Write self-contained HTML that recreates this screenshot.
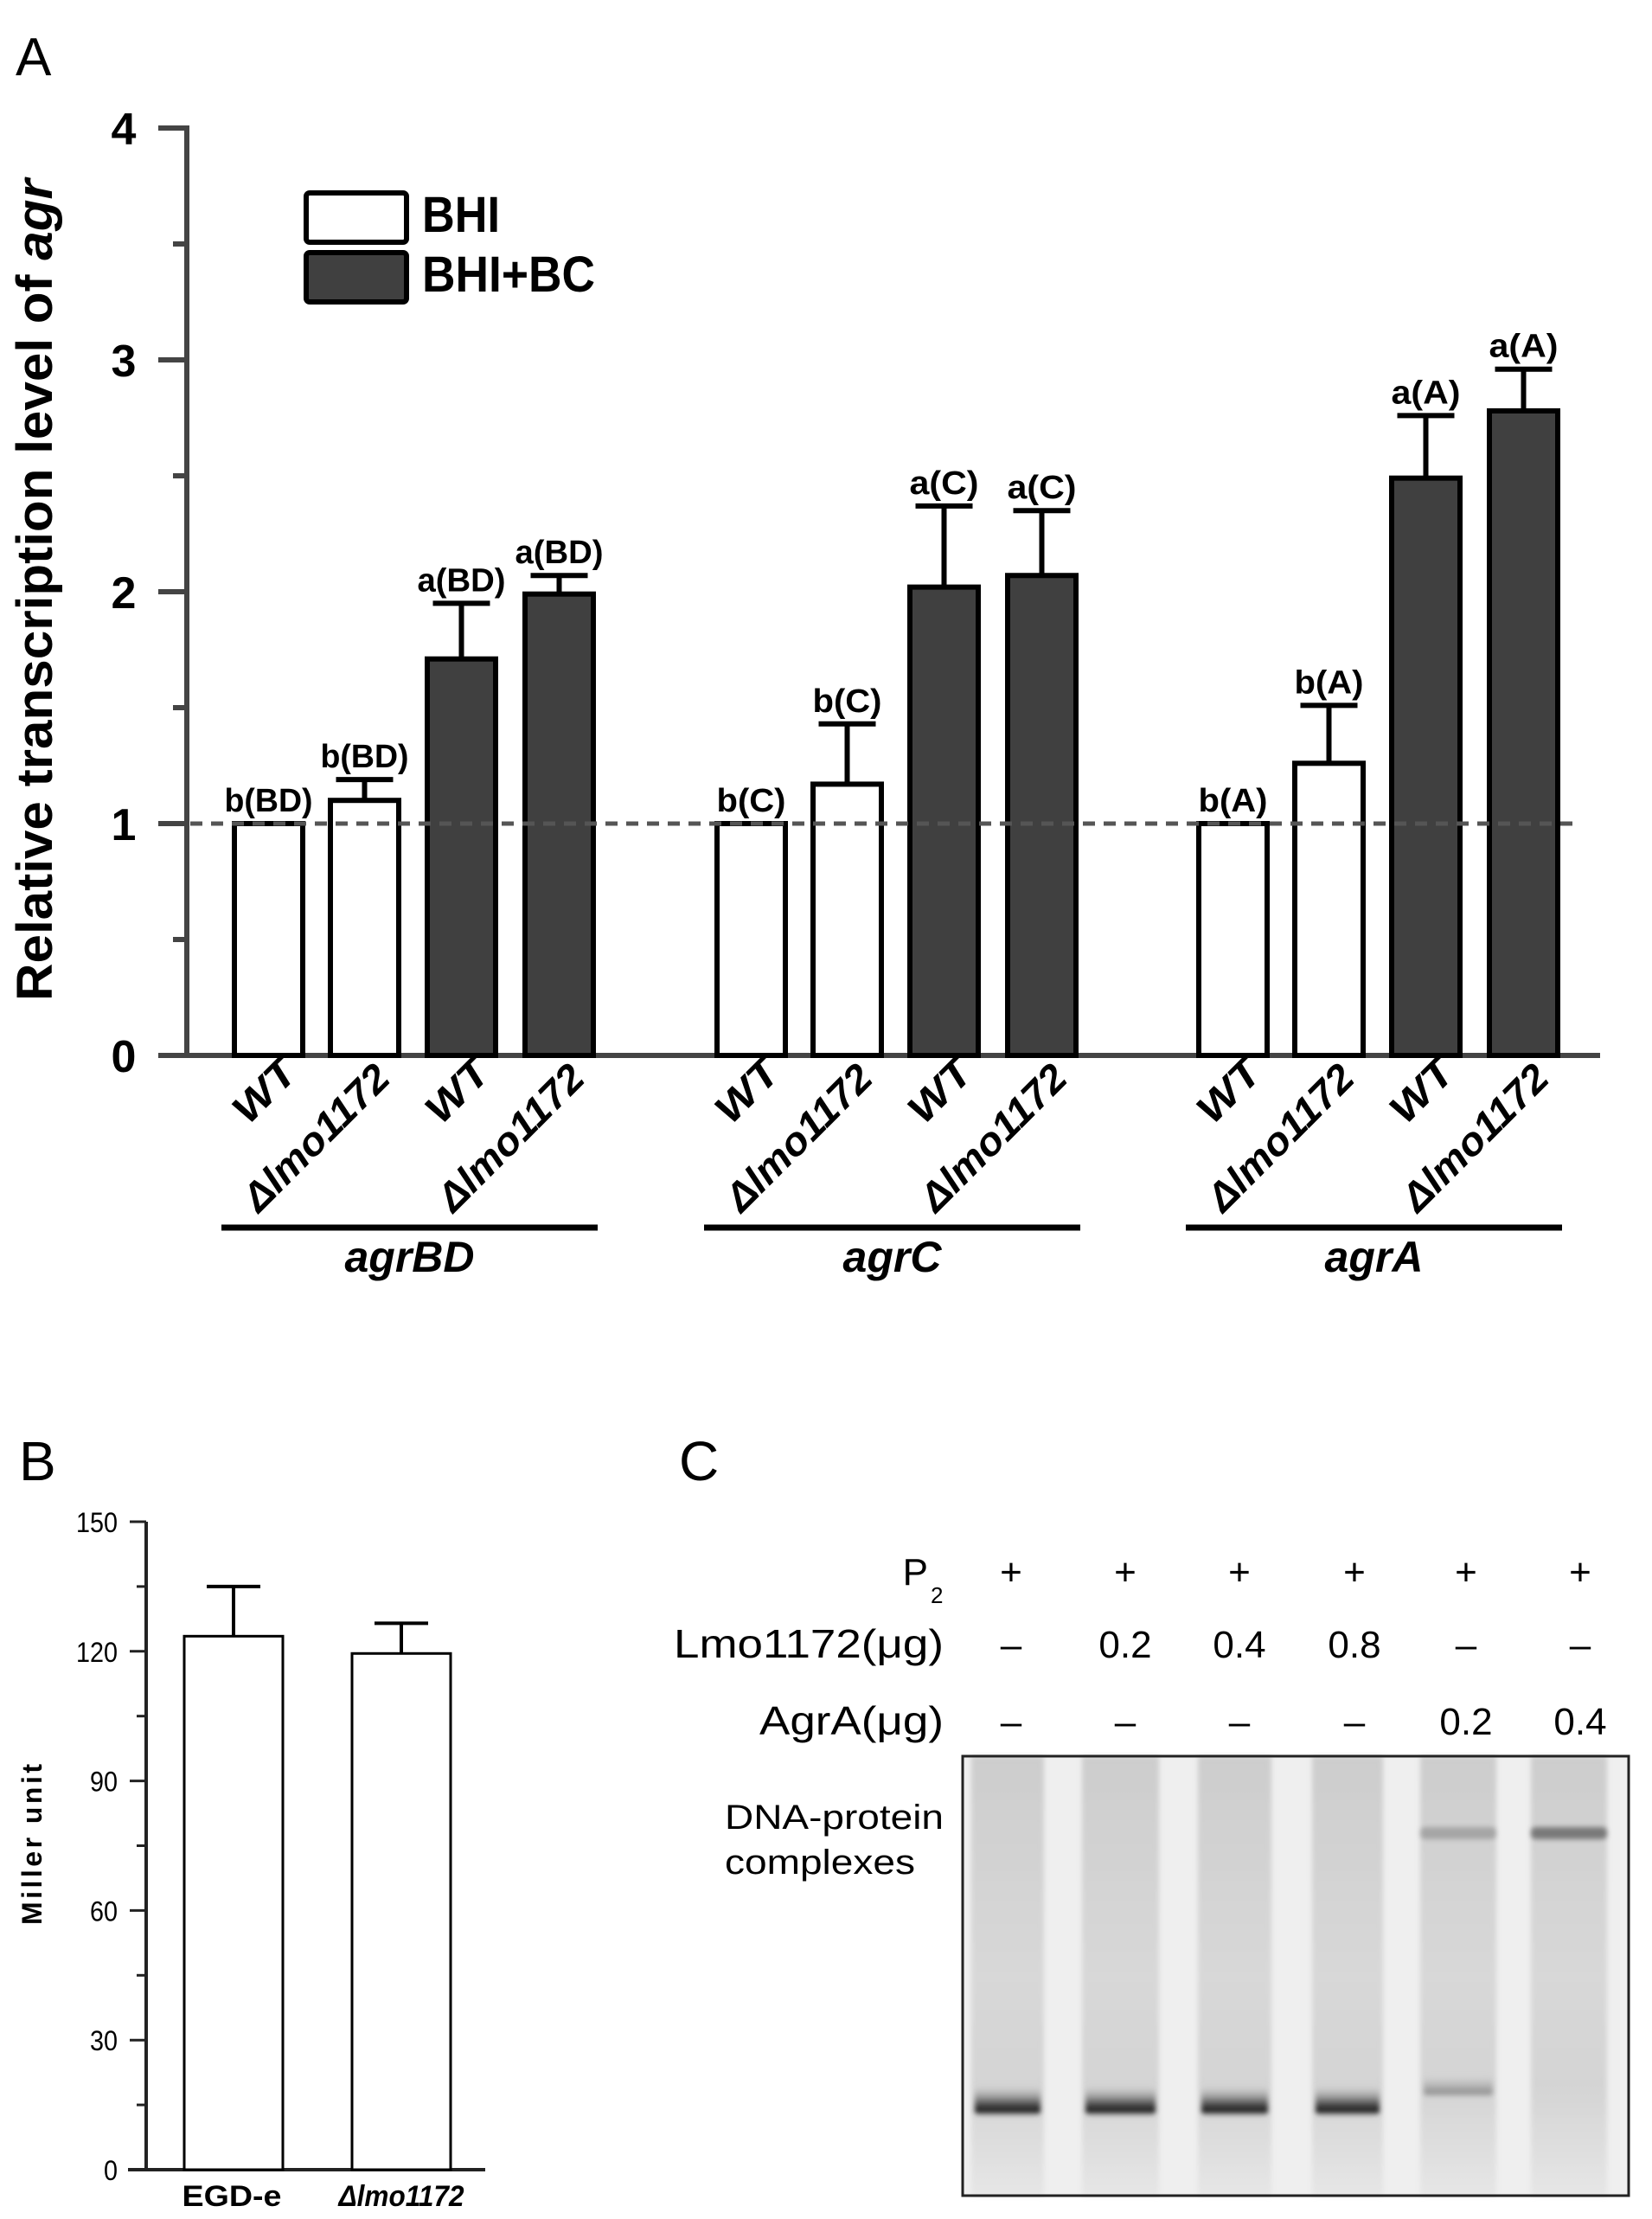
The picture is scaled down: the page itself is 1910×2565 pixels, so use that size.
<!DOCTYPE html>
<html><head><meta charset="utf-8"><style>
html,body{margin:0;padding:0;background:#fff}
svg{display:block}
text{font-family:"Liberation Sans",sans-serif}
</style></head><body>
<svg id="fig" width="1910" height="2565" viewBox="0 0 1910 2565" xmlns="http://www.w3.org/2000/svg">
<defs>
<linearGradient id="laneGrad" x1="0" y1="0" x2="0" y2="1">
<stop offset="0" stop-color="#cdcdcd"/><stop offset="0.5" stop-color="#d8d8d8"/><stop offset="0.75" stop-color="#d4d4d4"/><stop offset="1" stop-color="#e6e6e6"/>
</linearGradient>
<linearGradient id="bandGrad" x1="0" y1="0" x2="0" y2="1">
<stop offset="0" stop-color="#bbb" stop-opacity="0"/><stop offset="0.6" stop-color="#555"/><stop offset="0.85" stop-color="#111"/><stop offset="1" stop-color="#888" stop-opacity="0.2"/>
</linearGradient>
<filter id="blur" x="-20%" y="-50%" width="140%" height="200%"><feGaussianBlur stdDeviation="3"/></filter>
</defs>
<g id="panelA"></g>
<g id="panelB"></g>
<g id="panelC"></g>
</svg>
<script>
// ---- Panel A data ----
const aGroups = ["agrBD","agrC","agrA"];
const aCategories = ["WT","Δlmo1172","WT","Δlmo1172"];
const aMeans = [[1.0,1.10,1.71,1.99],[1.0,1.17,2.02,2.07],[1.0,1.26,2.49,2.78]];
const aErrTops = [[1.0,1.19,1.95,2.07],[1.0,1.43,2.37,2.35],[1.0,1.51,2.76,2.96]];
const aLetters = [["b(BD)","b(BD)","a(BD)","a(BD)"],["b(C)","b(C)","a(C)","a(C)"],["b(A)","b(A)","a(A)","a(A)"]];
const aTicks = [0,1,2,3,4];
// ---- Panel B data ----
const bCategories = ["EGD-e","Δlmo1172"];
const bMeans = [123.5,119.5];
const bErrTops = [135,126.5];
const bTicks = [0,30,60,90,120,150];
// ---- Panel C labels ----
const cP2 = ["+","+","+","+","+","+"];
const cLmo = ["–","0.2","0.4","0.8","–","–"];
const cAgrA = ["–","–","–","–","0.2","0.4"];
const cFreeBand = [1,1,1,1,0.35,0];
const cComplexBand = [0,0,0,0,0.35,0.7];

const NS="http://www.w3.org/2000/svg";
function mk(parent,tag,attrs,txt){const e=document.createElementNS(NS,tag);for(const k in attrs)e.setAttribute(k,attrs[k]);if(txt!==undefined)e.textContent=txt;parent.appendChild(e);return e;}

// ===== Panel A =====
const A=document.getElementById('panelA');
const ay=v=>1220-v*268;
const axX=216;
const barW=79;
const groupStart=[271,829,1386];
const barStep=[0,111,223,336];
let t;
t=mk(A,'text',{x:18,y:87,'font-size':62},'A');


t=mk(A,'text',{transform:'translate(60,682) rotate(-90)','text-anchor':'middle','font-size':58,'font-weight':'bold',textLength:950,lengthAdjust:'spacingAndGlyphs'});


mk(t,'tspan',{},'Relative transcription level of ');
mk(t,'tspan',{'font-style':'italic'},'agr');
let ax=mk(A,'line',{x1:axX,y1:ay(4)-3,x2:axX,y2:ay(0),stroke:'#444','stroke-width':6});


ax=mk(A,'line',{x1:axX-3,y1:ay(0),x2:1850,y2:ay(0),stroke:'#444','stroke-width':6});


aTicks.forEach(v=>{
  const tk=mk(A,'line',{x1:183,y1:ay(v),x2:axX,y2:ay(v),stroke:'#444','stroke-width':6});
  
  
  const lb=mk(A,'text',{x:143,y:ay(v)+19,'text-anchor':'middle','font-size':52,'font-weight':'bold'},String(v));
  
  
  if(v<4){const mt=mk(A,'line',{x1:200,y1:ay(v+0.5),x2:axX,y2:ay(v+0.5),stroke:'#444','stroke-width':6});
    
    }
});
let lg=mk(A,'rect',{x:354,y:223,width:116,height:57,rx:4,fill:'#fff',stroke:'#000','stroke-width':6});


lg=mk(A,'rect',{x:354,y:292,width:116,height:57,rx:4,fill:'#404040',stroke:'#000','stroke-width':6});


lg=mk(A,'text',{x:488,y:268,'font-size':58,'font-weight':'bold',textLength:90,lengthAdjust:'spacingAndGlyphs'},'BHI');


lg=mk(A,'text',{x:488,y:337,'font-size':58,'font-weight':'bold',textLength:200,lengthAdjust:'spacingAndGlyphs'},'BHI+BC');


aGroups.forEach((g,gi)=>{
  aMeans[gi].forEach((m,bi)=>{
    const x=groupStart[gi]+barStep[bi];
    const cx=x+barW/2;
    const et=aErrTops[gi][bi];
    if(et>m){
      const el=mk(A,'line',{x1:cx,y1:ay(m),x2:cx,y2:ay(et),stroke:'#000','stroke-width':6});
      
      
      const cap=mk(A,'line',{x1:cx-33,y1:ay(et),x2:cx+33,y2:ay(et),stroke:'#000','stroke-width':6});
      
      
    }
    const r=mk(A,'rect',{x:x,y:ay(m),width:barW,height:ay(0)-ay(m),fill:bi<2?'#fff':'#404040',stroke:'#000','stroke-width':6});
    
    
    const lbl=aLetters[gi][bi];
    const lt=mk(A,'text',{x:cx,y:ay(Math.max(et,m))-14,'text-anchor':'middle','font-size':38,'font-weight':'bold',textLength:lbl.length>4?102:80,lengthAdjust:'spacingAndGlyphs'},lbl);
    
    
    const cat=aCategories[bi];
    const isD=bi%2===1;
    const xl=mk(A,'text',{transform:'translate('+(cx+(isD?32:36))+','+(isD?1249:1242)+') rotate(-45)','text-anchor':'end','font-size':46,'font-weight':'bold','font-style':'italic',textLength:isD?218:84,lengthAdjust:'spacingAndGlyphs'},cat);
    
    
  });
  const x1=groupStart[gi]-15, x2=groupStart[gi]+barStep[3]+barW+5;
  const gl=mk(A,'line',{x1:x1,y1:1419,x2:x2,y2:1419,stroke:'#000','stroke-width':7});
  
  
  const gt=mk(A,'text',{x:(x1+x2)/2,y:1470,'text-anchor':'middle','font-size':50,'font-weight':'bold','font-style':'italic'},g);
  
  
});
const dl=mk(A,'line',{x1:axX+4,y1:ay(1),x2:1820,y2:ay(1),stroke:'#555','stroke-width':5,'stroke-dasharray':'14 10'});



// ===== Panel B =====
const B=document.getElementById('panelB');
const by=v=>2508-v*(2508-1759)/150;
const bX=169;
t=mk(B,'text',{x:22,y:1711,'font-size':64},'B');


t=mk(B,'text',{transform:'translate(48,2132) rotate(-90)','text-anchor':'middle','font-size':32,'font-weight':'bold',textLength:186,lengthAdjust:'spacing'},'Miller unit');


ax=mk(B,'line',{x1:bX,y1:by(150),x2:bX,y2:by(0)+2,stroke:'#222','stroke-width':4});


ax=mk(B,'line',{x1:148,y1:by(0),x2:561,y2:by(0),stroke:'#222','stroke-width':4});


bTicks.forEach(v=>{
  const tk=mk(B,'line',{x1:150,y1:by(v),x2:bX,y2:by(v),stroke:'#222','stroke-width':3});
  
  
  const lb=mk(B,'text',{x:136,y:by(v)+12,'text-anchor':'end','font-size':32,textLength:String(v).length*16,lengthAdjust:'spacingAndGlyphs'},String(v));
  
  
  if(v<150){const mt=mk(B,'line',{x1:158,y1:by(v+15),x2:bX,y2:by(v+15),stroke:'#222','stroke-width':3});
    
    }
});
const bLeft=[213,407];
bCategories.forEach((c,i)=>{
  const x=bLeft[i], w=114, cx=x+w/2;
  const el=mk(B,'line',{x1:cx,y1:by(bMeans[i]),x2:cx,y2:by(bErrTops[i]),stroke:'#000','stroke-width':4});
  
  
  const cap=mk(B,'line',{x1:cx-31,y1:by(bErrTops[i]),x2:cx+31,y2:by(bErrTops[i]),stroke:'#000','stroke-width':4});
  
  
  const r=mk(B,'rect',{x:x,y:by(bMeans[i]),width:w,height:by(0)-by(bMeans[i]),fill:'#fff',stroke:'#000','stroke-width':3});
  
  
  const xl=mk(B,'text',{x:cx+(i?0:-2),y:2550,'text-anchor':'middle','font-size':34,'font-weight':'bold','font-style':i?'italic':'normal',textLength:i?145:115,lengthAdjust:'spacingAndGlyphs'},c);
  
  
});

// ===== Panel C =====
const C=document.getElementById('panelC');
t=mk(C,'text',{x:785,y:1711,'font-size':64},'C');


const colX=[1169,1301,1433,1566,1695,1827];
t=mk(C,'text',{x:1073,y:1832,'text-anchor':'end','font-size':44},'P');


t=mk(C,'text',{x:1076,y:1853,'font-size':26},'2');


t=mk(C,'text',{x:1091,y:1916,'text-anchor':'end','font-size':46,textLength:312,lengthAdjust:'spacingAndGlyphs'},'Lmo1172(μg)');


t=mk(C,'text',{x:1091,y:2005,'text-anchor':'end','font-size':46,textLength:213,lengthAdjust:'spacingAndGlyphs'},'AgrA(μg)');


[[cP2,1832],[cLmo,1916],[cAgrA,2005]].forEach(([arr,y])=>{
  arr.forEach((v,i)=>{
    const c=mk(C,'text',{x:colX[i],y:y,'text-anchor':'middle','font-size':44},v);
    
    
  });
});
t=mk(C,'text',{x:838,y:2114,'font-size':40,textLength:253,lengthAdjust:'spacingAndGlyphs'},'DNA-protein');


t=mk(C,'text',{x:838,y:2166,'font-size':40,textLength:220,lengthAdjust:'spacingAndGlyphs'},'complexes');


const gx1=1113,gx2=1883,gy1=2030,gy2=2538;
const gb=mk(C,'rect',{x:gx1,y:gy1,width:gx2-gx1,height:gy2-gy1,fill:'#efefef'});


const laneL=[1123,1251,1385,1517,1642,1770];
const laneW=[84,89,85,82,88,88];
laneL.forEach((lx,i)=>{
  const ln=mk(C,'rect',{x:lx,y:gy1,width:laneW[i],height:gy2-gy1,fill:'url(#laneGrad)',filter:'url(#blur)'});
  
  
  if(cFreeBand[i]>0){
    const by0=i===4?2398:2410;
    const b=mk(C,'rect',{x:lx+4,y:by0,width:laneW[i]-8,height:i===4?26:36,fill:'url(#bandGrad)',opacity:cFreeBand[i],rx:6,filter:'url(#blur)'});
    
    
  }
  if(cComplexBand[i]>0){
    const b=mk(C,'rect',{x:lx,y:2112,width:laneW[i],height:14,fill:'#555',opacity:cComplexBand[i],rx:5,filter:'url(#blur)'});
    
    
  }
});
const gf=mk(C,'rect',{x:gx1,y:gy1,width:gx2-gx1,height:gy2-gy1,fill:'none',stroke:'#222','stroke-width':3});


</script>
</body></html>
